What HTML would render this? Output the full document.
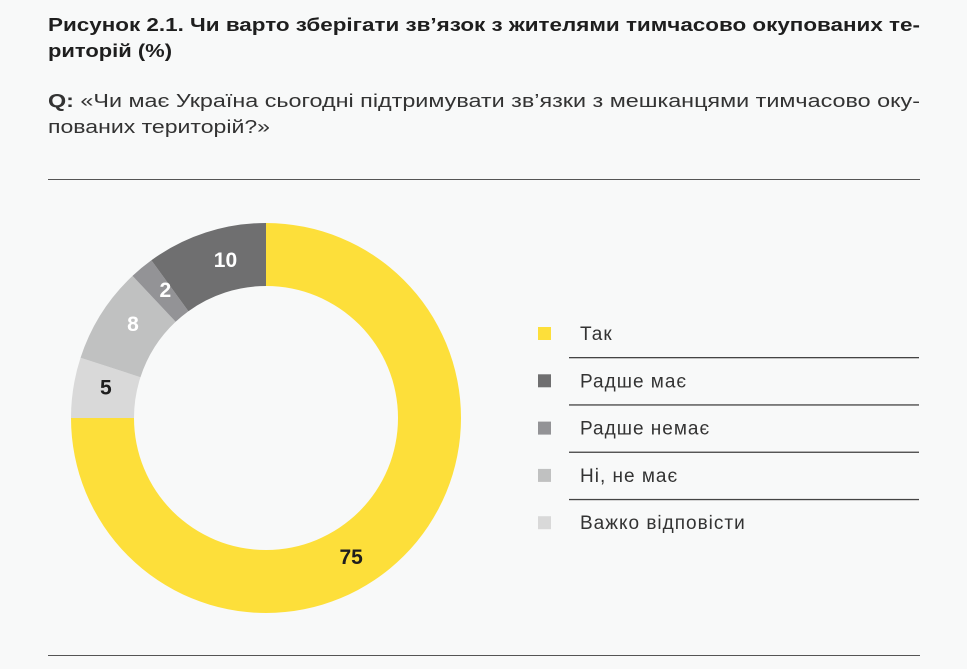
<!DOCTYPE html>
<html><head><meta charset="utf-8"><style>
body{margin:0;width:967px;height:669px;background:#f8f9f9;font-family:"Liberation Sans",sans-serif;position:relative;overflow:hidden;color:#222}
.t{position:absolute;left:48px;top:12px;font-weight:bold;font-size:18.5px;line-height:26px;color:#1e1e1e}
.q{position:absolute;left:48px;top:88px;font-size:18px;line-height:26px;color:#333}
.ln{display:block;white-space:nowrap;transform-origin:0 0;width:max-content}
.hl{position:absolute;left:48px;width:872px;height:1px;background:#555}
</style></head><body>
<div class="t"><span class="ln fit" data-w="872">Рисунок 2.1. Чи варто зберігати зв’язок з жителями тимчасово окупованих те-</span><span class="ln fit" data-w="124">риторій (%)</span></div>
<div class="q"><span class="ln fit" data-w="872"><b>Q:</b> «Чи має Україна сьогодні підтримувати зв’язки з мешканцями тимчасово оку-</span><span class="ln fit" data-w="222">пованих територій?»</span></div>
<div class="hl" style="top:179px"></div>
<div class="hl" style="top:655px"></div>
<svg id="c" width="967" height="669" style="position:absolute;left:0;top:0"></svg>
<script>
document.querySelectorAll('.fit').forEach(s=>{const w=s.getBoundingClientRect().width;s.style.transform='scaleX('+(+s.dataset.w/w)+')';});
const categories=["Так","Радше має","Радше немає","Ні, не має","Важко відповісти"];
const values=[75,10,2,8,5];
const colors=["#fddf3a","#6f6f70","#939396","#c0c1c1","#d9d9d9"];
const labelColors=["#1e1e1e","#fff","#fff","#fff","#1e1e1e"];
const drawOrder=[0,4,3,2,1];
const svg=document.getElementById('c');const NS="http://www.w3.org/2000/svg";
const cx=266,cy=418,R=195,r=132;
const total=values.reduce((a,b)=>a+b,0);
function pt(a,rad){return [cx+rad*Math.sin(a),cy-rad*Math.cos(a)];}
let acc=0;const labels=[];
drawOrder.forEach(i=>{
 const a0=acc/total*2*Math.PI;acc+=values[i];const a1=acc/total*2*Math.PI;
 const lg=(a1-a0)>Math.PI?1:0;
 const p1=pt(a0,R),p2=pt(a1,R),p3=pt(a1,r),p4=pt(a0,r);
 const p=document.createElementNS(NS,'path');
 p.setAttribute('d',`M${p1}A${R},${R} 0 ${lg} 1 ${p2}L${p3}A${r},${r} 0 ${lg} 0 ${p4}Z`);
 p.setAttribute('fill',colors[i]);
 
 
 svg.appendChild(p);
 const f=values[i]<4?0.7:(values[i]>50?0.55:0.6);
 labels.push([i,pt(a0+(a1-a0)*f,163)]);
});
labels.forEach(([i,lp])=>{
 const t=document.createElementNS(NS,'text');
 t.setAttribute('x',lp[0]);t.setAttribute('y',lp[1]+7);t.setAttribute('text-anchor','middle');
 t.setAttribute('font-size','21');t.setAttribute('font-weight','bold');t.setAttribute('fill',labelColors[i]);
 t.setAttribute('font-family','Liberation Sans, sans-serif');
 t.textContent=values[i];
 
 
 svg.appendChild(t);
});
categories.forEach((c,i)=>{
 const y=333+i*47.3;
 const s=document.createElementNS(NS,'rect');
 s.setAttribute('x',538);s.setAttribute('y',y-6);s.setAttribute('width',13);s.setAttribute('height',13);s.setAttribute('fill',colors[i]);
 
 
 svg.appendChild(s);
 const t=document.createElementNS(NS,'text');
 t.setAttribute('x',580);t.setAttribute('y',y+7);t.setAttribute('font-size','19');t.setAttribute('fill','#333');
 t.setAttribute('letter-spacing','1');
 t.setAttribute('font-family','Liberation Sans, sans-serif');
 t.textContent=c;
 
 
 svg.appendChild(t);
 if(i<categories.length-1){
  const l=document.createElementNS(NS,'rect');
  l.setAttribute('x',569);l.setAttribute('y',y+24);l.setAttribute('width',350);l.setAttribute('height',1.3);l.setAttribute('fill','#444');
  
  
  svg.appendChild(l);
 }
});
</script>
</body></html>
